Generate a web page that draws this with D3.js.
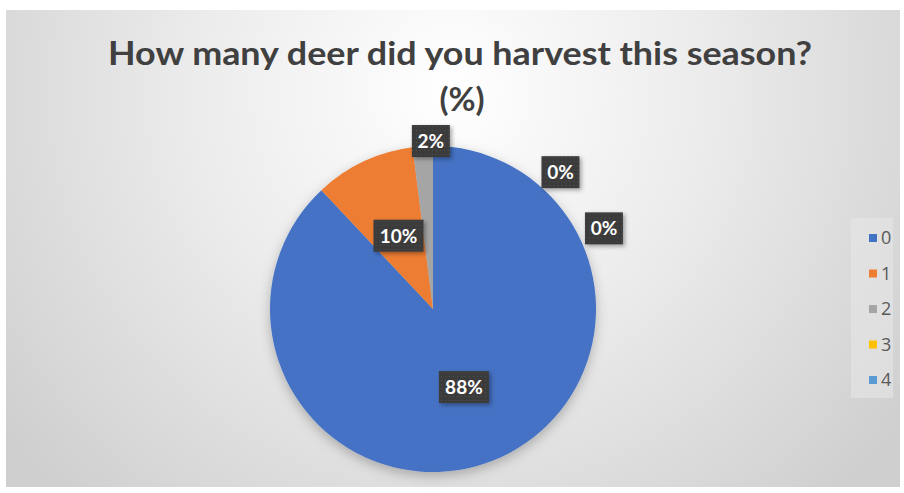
<!DOCTYPE html>
<html>
<head>
<meta charset="utf-8">
<script src="https://cdn.jsdelivr.net/npm/d3@7"></script>
<style>
  body { margin: 0; background: #fff; }
  svg { display: block; }
</style>
</head>
<body>
<div id="chart"></div>
<script>
// Chart data
var categories = ["0", "1", "2", "3", "4"];
var percents = [88, 10, 2, 0, 0];
var sliceColors = ["#4472C4", "#ED7D31", "#A5A5A5", "#FFC000", "#5B9BD5"];
var titleLines = ["How many deer did you harvest this season?", "(%)"];

// Size of the page
var svgWidth = 904;
var svgHeight = 493;

// Panel and pie layout
var panel = { x: 6, y: 10, w: 894, h: 477 };
var center = { x: 433, y: 309 };
var radius = 163;

var svg = d3.select("#chart")
  .append("svg")
  .attr("width", svgWidth)
  .attr("height", svgHeight);

var defs = svg.append("defs");

// Radial background like the office chart style
var bg = defs.append("radialGradient")
  .attr("id", "bgGrad")
  .attr("gradientUnits", "userSpaceOnUse")
  .attr("cx", 450).attr("cy", 90)
  .attr("r", 560);
bg.append("stop").attr("offset", "0%").attr("stop-color", "#ffffff");
bg.append("stop").attr("offset", "45%").attr("stop-color", "#ececec");
bg.append("stop").attr("offset", "100%").attr("stop-color", "#cfcfcf");

var shadow = defs.append("filter")
  .attr("id", "pieShadow")
  .attr("x", "-20%").attr("y", "-20%")
  .attr("width", "140%").attr("height", "140%");
shadow.append("feDropShadow")
  .attr("dx", 0).attr("dy", 4)
  .attr("stdDeviation", 6)
  .attr("flood-color", "#000")
  .attr("flood-opacity", 0.25);

var boxShadow = defs.append("filter")
  .attr("id", "boxShadow")
  .attr("x", "-30%").attr("y", "-30%")
  .attr("width", "160%").attr("height", "160%");
boxShadow.append("feDropShadow")
  .attr("dx", 2).attr("dy", 2)
  .attr("stdDeviation", 2)
  .attr("flood-color", "#000")
  .attr("flood-opacity", 0.35);

// dotted texture for the label boxes
var pat = defs.append("pattern")
  .attr("id", "dots")
  .attr("width", 4).attr("height", 4)
  .attr("patternUnits", "userSpaceOnUse");
pat.append("rect").attr("width", 4).attr("height", 4).attr("fill", "#3a3a3a");
pat.append("rect").attr("x", 1).attr("y", 1).attr("width", 1).attr("height", 1).attr("fill", "#555");

svg.append("rect")
  .attr("x", panel.x).attr("y", panel.y)
  .attr("width", panel.w).attr("height", panel.h)
  .attr("fill", "url(#bgGrad)");

// Title
var titleGroup = svg.append("g")
  .attr("font-family", "Lato, 'Open Sans', sans-serif")
  .attr("font-weight", "bold")
  .attr("fill", "#404040")
  .attr("text-anchor", "middle");

titleGroup.append("text")
  .attr("x", 460).attr("y", 65)
  .attr("font-size", 33)
  .attr("textLength", 704)
  .attr("lengthAdjust", "spacingAndGlyphs")
  .text(titleLines[0]);

titleGroup.append("text")
  .attr("x", 462).attr("y", 111)
  .attr("font-size", 33)
  .text(titleLines[1]);

// Pie
var pie = d3.pie().sort(null).value(d => d);
var arcs = pie(percents);

var arc = d3.arc().innerRadius(0).outerRadius(radius);

var pieGroup = svg.append("g")
  .attr("transform", `translate(${center.x}, ${center.y})`);

pieGroup.append("g")
  .attr("filter", "url(#pieShadow)")
  .selectAll("path")
  .data(arcs)
  .enter()
  .append("path")
  .attr("d", arc)
  .attr("fill", (d, i) => sliceColors[i]);

// Label placement (radius and angle nudge per slice, best-fit style)
var labelRadius = [84, 81, 168, 187, 189];
var labelNudge = [0, 0, 0.05, 0.75, 1.13];

var labels = pieGroup.selectAll(".lbl")
  .data(arcs)
  .enter()
  .append("g")
  .attr("class", "lbl")
  .attr("transform", (d, i) => {
    var mid = (d.startAngle + d.endAngle) / 2 + labelNudge[i];
    var la = d3.arc().innerRadius(labelRadius[i]).outerRadius(labelRadius[i]);
    var c = la.centroid({ startAngle: mid, endAngle: mid });
    return `translate(${c[0]}, ${c[1]})`;
  });

labels.append("rect")
  .attr("x", d => d.data >= 10 ? -25 : -19)
  .attr("y", -16)
  .attr("width", d => d.data >= 10 ? 50 : 38)
  .attr("height", 32)
  .attr("fill", "url(#dots)")
  .attr("filter", "url(#boxShadow)");

labels.append("text")
  .attr("text-anchor", "middle")
  .attr("dy", "0.36em")
  .attr("font-family", "Lato, 'Open Sans', sans-serif")
  .attr("font-weight", "bold")
  .attr("font-size", 19)
  .attr("fill", "#ffffff")
  .text(d => d.data + "%");

// Legend
var legend = svg.append("g");
legend.append("rect")
  .attr("x", 851).attr("y", 218)
  .attr("width", 42).attr("height", 180)
  .attr("fill", "#e6e6e6")
  .attr("opacity", 0.6);

var legendY = d3.scalePoint()
  .domain(categories)
  .range([238, 380]);

var items = legend.selectAll(".item")
  .data(categories)
  .enter()
  .append("g")
  .attr("class", "item")
  .attr("transform", d => `translate(869, ${legendY(d)})`);

items.append("rect")
  .attr("x", 0).attr("y", -4)
  .attr("width", 8).attr("height", 8)
  .attr("fill", (d, i) => sliceColors[i]);

items.append("text")
  .attr("x", 12)
  .attr("dy", "0.36em")
  .attr("font-family", "'Open Sans', sans-serif")
  .attr("font-size", 18)
  .attr("fill", "#595959")
  .text(d => d);
</script>
</body>
</html>
